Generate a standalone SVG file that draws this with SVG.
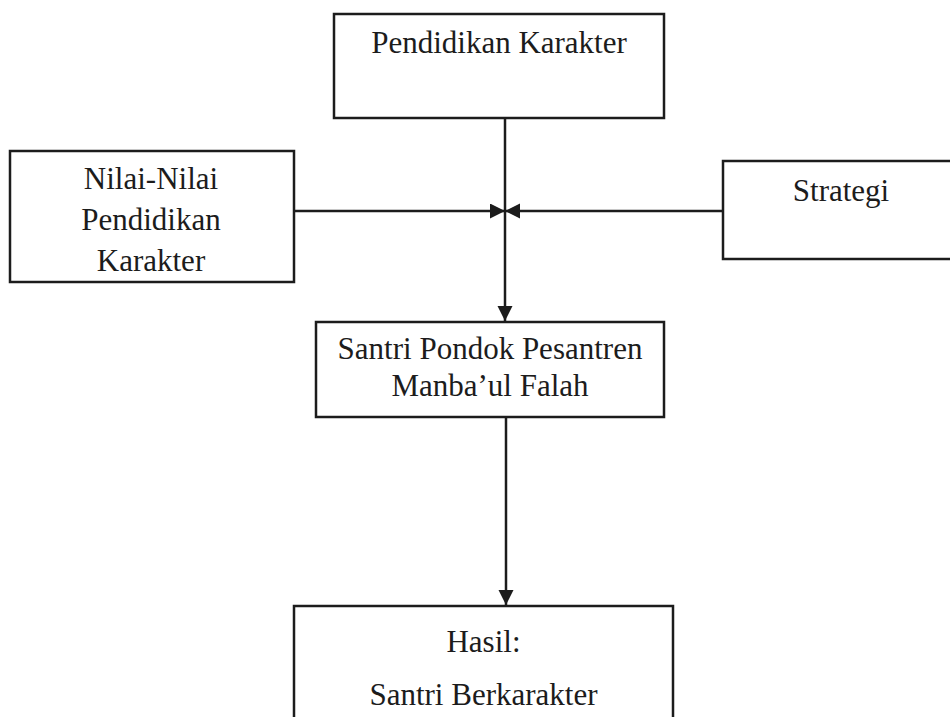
<svg xmlns="http://www.w3.org/2000/svg" width="950" height="717" viewBox="0 0 950 717">
<style>
.box{fill:#fff;stroke:#1c1c1c;stroke-width:2.5}
.lbl{font-family:"Liberation Serif","Times New Roman",serif;font-size:31px;fill:#1c1c1c;text-anchor:middle}
.edge{fill:none;stroke:#1c1c1c;stroke-width:2.5}
</style>
<defs>
<marker id="ah" markerUnits="userSpaceOnUse" markerWidth="16" markerHeight="16" refX="15" refY="7.5" orient="auto">
<path d="M0,0 L15,7.5 L0,15 z" fill="#1c1c1c"/>
</marker>
</defs>
<rect width="950" height="717" fill="#fff"/>
<g id="connectors">
<line class="edge" x1="505" y1="118" x2="505" y2="321" marker-end="url(#ah)"/>
<line class="edge" x1="294" y1="211" x2="505" y2="211" marker-end="url(#ah)"/>
<line class="edge" x1="723" y1="211" x2="505" y2="211" marker-end="url(#ah)"/>
<line class="edge" x1="506" y1="417" x2="506" y2="605" marker-end="url(#ah)"/>
</g>
<g id="pendidikan-karakter">
<rect class="box" x="334" y="14" width="330" height="104"/>
<text class="lbl" x="499" y="53">Pendidikan Karakter</text>
</g>
<g id="nilai-nilai">
<rect class="box" x="10" y="151" width="284" height="131"/>
<text class="lbl" x="151" y="189">Nilai-Nilai</text>
<text class="lbl" x="151" y="230">Pendidikan</text>
<text class="lbl" x="151" y="271">Karakter</text>
</g>
<g id="strategi">
<rect class="box" x="723" y="161" width="240" height="98"/>
<text class="lbl" x="841" y="201">Strategi</text>
</g>
<g id="santri">
<rect class="box" x="316" y="322" width="348" height="95"/>
<text class="lbl" x="490" y="359">Santri Pondok Pesantren</text>
<text class="lbl" x="490" y="396">Manba’ul Falah</text>
</g>
<g id="hasil">
<rect class="box" x="294" y="606" width="379" height="130"/>
<text class="lbl" x="483.5" y="652">Hasil:</text>
<text class="lbl" x="483.5" y="705">Santri Berkarakter</text>
</g>
</svg>
